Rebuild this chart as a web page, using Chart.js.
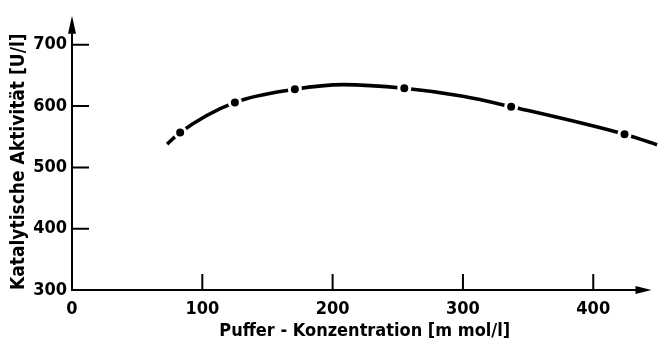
<!DOCTYPE html>
<html>
<head>
<meta charset="utf-8">
<script src="https://cdn.jsdelivr.net/npm/chart.js@4"></script>
<style>
html, body { margin: 0; padding: 0; background: #fff; }
#wrap { width: 666px; height: 342px; }
</style>
</head>
<body>
<div id="wrap"><canvas id="chart"></canvas></div>
<script>
// measured points (dots) and the drawn curve through them
const dotX = [83, 125, 171, 255, 337, 424];
const dotY = [557, 606, 627.5, 629, 599, 554];
const curveX = [73, 83, 125, 171, 208, 255, 300, 337, 424, 449];
const curveY = [538, 557, 606, 627.5, 635, 629, 616, 599, 554, 537];
const xTicks = [0, 100, 200, 300, 400];
const yTicks = [300, 400, 500, 600, 700];
const xTitle = 'Puffer - Konzentration [m mol/l]';
const yTitle = 'Katalytische Aktivität [U/l]';

const FONT = "'Liberation Sans Narrow', 'DejaVu Sans Condensed', sans-serif";

const toPoints = (xs, ys) => xs.map((x, i) => ({ x: x, y: ys[i] }));

// axes with arrows and inward tick marks
const axesPlugin = {
    id: 'axes',
    afterDatasetsDraw(chart) {
        const ctx = chart.ctx;
        const a = chart.chartArea;
        const xs = chart.scales.x;
        const ys = chart.scales.y;
        const x0 = xs.getPixelForValue(0);
        const y0 = ys.getPixelForValue(300);
        ctx.save();
        ctx.strokeStyle = '#000';
        ctx.fillStyle = '#000';
        ctx.lineWidth = 2;
        ctx.beginPath();
        ctx.moveTo(x0, y0 + 1);
        ctx.lineTo(x0, a.top + 8);
        ctx.moveTo(x0 - 1, y0);
        ctx.lineTo(a.right - 14, y0);
        for (const v of yTicks.slice(1)) {
            const y = ys.getPixelForValue(v);
            ctx.moveTo(x0, y);
            ctx.lineTo(x0 + 17, y);
        }
        for (const v of xTicks.slice(1)) {
            const x = xs.getPixelForValue(v);
            ctx.moveTo(x, y0);
            ctx.lineTo(x, y0 - 16);
        }
        ctx.stroke();
        // arrow heads
        ctx.beginPath();
        ctx.moveTo(x0, a.top);
        ctx.lineTo(x0 - 4, a.top + 18);
        ctx.lineTo(x0 + 4, a.top + 18);
        ctx.closePath();
        ctx.fill();
        ctx.beginPath();
        ctx.moveTo(a.right - 6, y0);
        ctx.lineTo(a.right - 22, y0 - 4);
        ctx.lineTo(a.right - 22, y0 + 4);
        ctx.closePath();
        ctx.fill();
        ctx.restore();
    }
};

new Chart(document.getElementById('chart'), {
    type: 'scatter',
    data: {
        datasets: [
            {
                label: 'Messwerte',
                data: toPoints(dotX, dotY),
                order: 0,
                pointRadius: 5.5,
                pointBackgroundColor: '#000',
                pointBorderColor: '#fff',
                pointBorderWidth: 3,
                showLine: false
            },
            {
                label: 'Kurve',
                data: toPoints(curveX, curveY),
                order: 1,
                showLine: true,
                borderColor: '#000',
                borderWidth: 3.6,
                pointRadius: 0,
                cubicInterpolationMode: 'monotone',
                clip: false
            }
        ]
    },
    options: {
        responsive: true,
        maintainAspectRatio: false,
        animation: false,
        layout: { padding: { top: 10, right: 0, bottom: 0, left: 0 } },
        plugins: {
            legend: { display: false },
            tooltip: { enabled: false }
        },
        scales: {
            x: {
                type: 'linear',
                min: 0,
                max: 449.3,
                afterBuildTicks: (s) => { s.ticks = xTicks.map(v => ({ value: v })); },
                afterFit: (s) => { s.height = 52; },
                grid: { display: false, drawTicks: false },
                border: { display: false },
                ticks: {
                    color: '#000',
                    padding: 9,
                    font: { family: FONT, size: 18, weight: 'bold' }
                },
                title: {
                    display: true,
                    text: xTitle,
                    color: '#000',
                    padding: { top: 0, bottom: 0 },
                    font: { family: FONT, size: 18, weight: 'bold' }
                }
            },
            y: {
                type: 'linear',
                min: 300,
                max: 747.3,
                afterBuildTicks: (s) => { s.ticks = yTicks.map(v => ({ value: v })); },
                afterFit: (s) => { s.width = 72; },
                grid: { display: false, drawTicks: false },
                border: { display: false },
                ticks: {
                    color: '#000',
                    padding: 5,
                    font: { family: FONT, size: 18, weight: 'bold' }
                },
                title: {
                    display: true,
                    text: yTitle,
                    align: 'start',
                    color: '#000',
                    padding: { top: 8, bottom: 0 },
                    font: { family: FONT, size: 19, weight: 'bold' }
                }
            }
        }
    },
    plugins: [axesPlugin]
});
</script>
</body>
</html>
